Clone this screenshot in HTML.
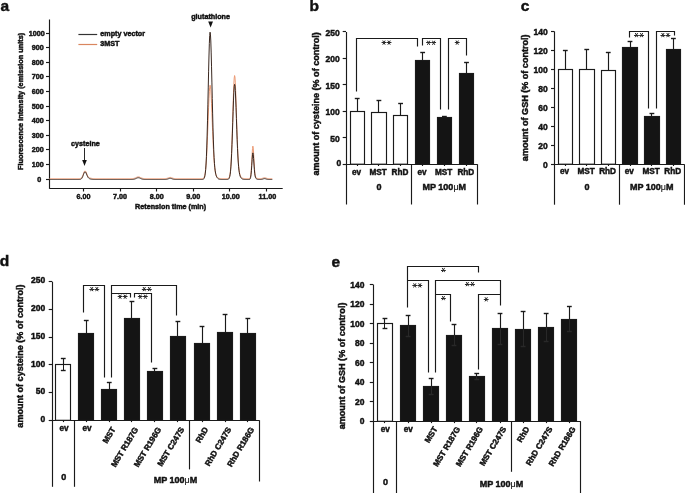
<!DOCTYPE html>
<html><head><meta charset="utf-8"><style>
html,body{margin:0;padding:0;background:#fff;}
body{width:685px;height:493px;overflow:hidden;font-family:"Liberation Sans",sans-serif;}
svg{display:block;will-change:transform;}
</style></head><body>
<svg width="685" height="493" viewBox="0 0 685 493">
<rect width="685" height="493" fill="#fff"/>
<text x="0.50" y="11.30" font-size="15.5" text-anchor="start" fill="#111" stroke="#111" stroke-width="0.45" font-family="Liberation Sans" font-weight="bold" >a</text>
<text x="309.50" y="11.20" font-size="15.5" text-anchor="start" fill="#111" stroke="#111" stroke-width="0.45" font-family="Liberation Sans" font-weight="bold" >b</text>
<text x="520.80" y="11.20" font-size="15.5" text-anchor="start" fill="#111" stroke="#111" stroke-width="0.45" font-family="Liberation Sans" font-weight="bold" >c</text>
<text x="-0.20" y="266.40" font-size="15.5" text-anchor="start" fill="#111" stroke="#111" stroke-width="0.45" font-family="Liberation Sans" font-weight="bold" >d</text>
<text x="331.50" y="267.00" font-size="15.5" text-anchor="start" fill="#111" stroke="#111" stroke-width="0.45" font-family="Liberation Sans" font-weight="bold" >e</text>
<line x1="49.50" y1="19.50" x2="49.50" y2="188.80" stroke="#1a1a1a" stroke-width="1.15"/>
<line x1="49.50" y1="188.50" x2="282.70" y2="188.50" stroke="#1a1a1a" stroke-width="1.15"/>
<line x1="46.00" y1="179.50" x2="49.50" y2="179.50" stroke="#1a1a1a" stroke-width="1.15"/>
<text x="41.30" y="181.60" font-size="7.2" text-anchor="end" fill="#111" stroke="#111" stroke-width="0.45" font-family="Liberation Sans" font-weight="bold" >0</text>
<line x1="46.00" y1="164.50" x2="49.50" y2="164.50" stroke="#1a1a1a" stroke-width="1.15"/>
<text x="43.70" y="166.99" font-size="7.2" text-anchor="end" fill="#111" stroke="#111" stroke-width="0.45" font-family="Liberation Sans" font-weight="bold" >100</text>
<line x1="46.00" y1="149.50" x2="49.50" y2="149.50" stroke="#1a1a1a" stroke-width="1.15"/>
<text x="43.70" y="152.38" font-size="7.2" text-anchor="end" fill="#111" stroke="#111" stroke-width="0.45" font-family="Liberation Sans" font-weight="bold" >200</text>
<line x1="46.00" y1="135.50" x2="49.50" y2="135.50" stroke="#1a1a1a" stroke-width="1.15"/>
<text x="43.70" y="137.77" font-size="7.2" text-anchor="end" fill="#111" stroke="#111" stroke-width="0.45" font-family="Liberation Sans" font-weight="bold" >300</text>
<line x1="46.00" y1="120.50" x2="49.50" y2="120.50" stroke="#1a1a1a" stroke-width="1.15"/>
<text x="43.70" y="123.16" font-size="7.2" text-anchor="end" fill="#111" stroke="#111" stroke-width="0.45" font-family="Liberation Sans" font-weight="bold" >400</text>
<line x1="46.00" y1="106.50" x2="49.50" y2="106.50" stroke="#1a1a1a" stroke-width="1.15"/>
<text x="43.70" y="108.55" font-size="7.2" text-anchor="end" fill="#111" stroke="#111" stroke-width="0.45" font-family="Liberation Sans" font-weight="bold" >500</text>
<line x1="46.00" y1="91.50" x2="49.50" y2="91.50" stroke="#1a1a1a" stroke-width="1.15"/>
<text x="43.70" y="93.94" font-size="7.2" text-anchor="end" fill="#111" stroke="#111" stroke-width="0.45" font-family="Liberation Sans" font-weight="bold" >600</text>
<line x1="46.00" y1="76.50" x2="49.50" y2="76.50" stroke="#1a1a1a" stroke-width="1.15"/>
<text x="43.70" y="79.33" font-size="7.2" text-anchor="end" fill="#111" stroke="#111" stroke-width="0.45" font-family="Liberation Sans" font-weight="bold" >700</text>
<line x1="46.00" y1="62.50" x2="49.50" y2="62.50" stroke="#1a1a1a" stroke-width="1.15"/>
<text x="43.70" y="64.72" font-size="7.2" text-anchor="end" fill="#111" stroke="#111" stroke-width="0.45" font-family="Liberation Sans" font-weight="bold" >800</text>
<line x1="46.00" y1="47.50" x2="49.50" y2="47.50" stroke="#1a1a1a" stroke-width="1.15"/>
<text x="43.70" y="50.11" font-size="7.2" text-anchor="end" fill="#111" stroke="#111" stroke-width="0.45" font-family="Liberation Sans" font-weight="bold" >900</text>
<line x1="46.00" y1="33.50" x2="49.50" y2="33.50" stroke="#1a1a1a" stroke-width="1.15"/>
<text x="44.80" y="35.50" font-size="7.2" text-anchor="end" fill="#111" stroke="#111" stroke-width="0.45" font-family="Liberation Sans" font-weight="bold" >1000</text>
<line x1="83.50" y1="188.30" x2="83.50" y2="191.50" stroke="#1a1a1a" stroke-width="1.15"/>
<text x="83.50" y="198.80" font-size="7.2" text-anchor="middle" fill="#111" stroke="#111" stroke-width="0.45" font-family="Liberation Sans" font-weight="bold" >6.00</text>
<line x1="120.50" y1="188.30" x2="120.50" y2="191.50" stroke="#1a1a1a" stroke-width="1.15"/>
<text x="120.08" y="198.80" font-size="7.2" text-anchor="middle" fill="#111" stroke="#111" stroke-width="0.45" font-family="Liberation Sans" font-weight="bold" >7.00</text>
<line x1="156.50" y1="188.30" x2="156.50" y2="191.50" stroke="#1a1a1a" stroke-width="1.15"/>
<text x="156.66" y="198.80" font-size="7.2" text-anchor="middle" fill="#111" stroke="#111" stroke-width="0.45" font-family="Liberation Sans" font-weight="bold" >8.00</text>
<line x1="193.50" y1="188.30" x2="193.50" y2="191.50" stroke="#1a1a1a" stroke-width="1.15"/>
<text x="193.24" y="198.80" font-size="7.2" text-anchor="middle" fill="#111" stroke="#111" stroke-width="0.45" font-family="Liberation Sans" font-weight="bold" >9.00</text>
<line x1="229.50" y1="188.30" x2="229.50" y2="191.50" stroke="#1a1a1a" stroke-width="1.15"/>
<text x="230.82" y="198.80" font-size="7.2" text-anchor="middle" fill="#111" stroke="#111" stroke-width="0.45" font-family="Liberation Sans" font-weight="bold" >10.00</text>
<line x1="266.50" y1="188.30" x2="266.50" y2="191.50" stroke="#1a1a1a" stroke-width="1.15"/>
<text x="267.40" y="198.80" font-size="7.2" text-anchor="middle" fill="#111" stroke="#111" stroke-width="0.45" font-family="Liberation Sans" font-weight="bold" >11.00</text>
<text x="170.60" y="208.80" font-size="7.2" text-anchor="middle" fill="#111" stroke="#111" stroke-width="0.45" font-family="Liberation Sans" font-weight="bold" >Retension time (min)</text>
<text x="0.00" y="0.00" font-size="7.3" text-anchor="middle" fill="#111" stroke="#111" stroke-width="0.45" font-family="Liberation Sans" font-weight="bold" transform="translate(23.4,101.4) rotate(-90)">Fluorescence intensity (emission units)</text>
<line x1="78.40" y1="34.50" x2="97.20" y2="34.50" stroke="#333" stroke-width="1.2"/>
<line x1="78.40" y1="44.50" x2="97.20" y2="44.50" stroke="#d9865f" stroke-width="1.2"/>
<text x="100.30" y="36.40" font-size="7.2" text-anchor="start" fill="#111" stroke="#111" stroke-width="0.45" font-family="Liberation Sans" font-weight="bold" >empty vector</text>
<text x="100.30" y="46.00" font-size="7.2" text-anchor="start" fill="#111" stroke="#111" stroke-width="0.45" font-family="Liberation Sans" font-weight="bold" >3MST</text>
<text x="85.40" y="146.00" font-size="7.2" text-anchor="middle" fill="#111" stroke="#111" stroke-width="0.45" font-family="Liberation Sans" font-weight="bold" >cysteine</text>
<line x1="84.50" y1="148.00" x2="84.50" y2="161.00" stroke="#111" stroke-width="0.9"/>
<polygon points="82.2,160 86.8,160 84.5,166" fill="#111"/>
<text x="210.60" y="18.90" font-size="7.2" text-anchor="middle" fill="#111" stroke="#111" stroke-width="0.45" font-family="Liberation Sans" font-weight="bold" >glutathione</text>
<polygon points="208.2,21.5 213,21.5 210.6,27.5" fill="#111"/>
<polyline points="49.48,178.60 49.85,178.60 50.21,178.60 50.58,178.60 50.94,178.60 51.31,178.60 51.68,178.60 52.04,178.60 52.41,178.60 52.77,178.60 53.14,178.60 53.50,178.60 53.87,178.60 54.24,178.60 54.60,178.60 54.97,178.60 55.33,178.60 55.70,178.60 56.06,178.60 56.43,178.60 56.80,178.60 57.16,178.60 57.53,178.60 57.89,178.60 58.26,178.60 58.63,178.60 58.99,178.60 59.36,178.60 59.72,178.60 60.09,178.60 60.45,178.60 60.82,178.60 61.19,178.60 61.55,178.60 61.92,178.60 62.28,178.60 62.65,178.60 63.02,178.60 63.38,178.60 63.75,178.60 64.11,178.60 64.48,178.60 64.84,178.60 65.21,178.60 65.58,178.60 65.94,178.60 66.31,178.60 66.67,178.60 67.04,178.60 67.40,178.60 67.77,178.60 68.14,178.60 68.50,178.60 68.87,178.60 69.23,178.60 69.60,178.60 69.97,178.60 70.33,178.60 70.70,178.60 71.06,178.60 71.43,178.60 71.79,178.60 72.16,178.60 72.53,178.60 72.89,178.60 73.26,178.60 73.62,178.60 73.99,178.60 74.35,178.60 74.72,178.60 75.09,178.60 75.45,178.60 75.82,178.60 76.18,178.60 76.55,178.60 76.92,178.60 77.28,178.60 77.65,178.60 78.01,178.60 78.38,178.60 78.74,178.59 79.11,178.59 79.48,178.57 79.84,178.54 80.21,178.49 80.57,178.39 80.94,178.23 81.31,177.97 81.67,177.60 82.04,177.07 82.40,176.38 82.77,175.54 83.13,174.58 83.50,173.56 83.87,172.59 84.23,171.76 84.60,171.19 84.96,170.93 85.33,171.03 85.69,171.45 86.06,172.13 86.43,172.98 86.79,173.89 87.16,174.77 87.52,175.56 87.89,176.22 88.26,176.75 88.62,177.15 88.99,177.46 89.35,177.69 89.72,177.87 90.08,178.01 90.45,178.13 90.82,178.23 91.18,178.31 91.55,178.38 91.91,178.44 92.28,178.48 92.64,178.52 93.01,178.54 93.38,178.56 93.74,178.57 94.11,178.58 94.47,178.59 94.84,178.59 95.21,178.60 95.57,178.60 95.94,178.60 96.30,178.60 96.67,178.60 97.03,178.60 97.40,178.60 97.77,178.60 98.13,178.60 98.50,178.60 98.86,178.60 99.23,178.60 99.60,178.60 99.96,178.60 100.33,178.60 100.69,178.60 101.06,178.60 101.42,178.60 101.79,178.60 102.16,178.60 102.52,178.60 102.89,178.60 103.25,178.60 103.62,178.60 103.98,178.60 104.35,178.60 104.72,178.60 105.08,178.60 105.45,178.60 105.81,178.60 106.18,178.60 106.55,178.60 106.91,178.60 107.28,178.60 107.64,178.60 108.01,178.60 108.37,178.60 108.74,178.60 109.11,178.60 109.47,178.60 109.84,178.60 110.20,178.60 110.57,178.60 110.93,178.60 111.30,178.60 111.67,178.60 112.03,178.60 112.40,178.60 112.76,178.60 113.13,178.60 113.50,178.60 113.86,178.60 114.23,178.60 114.59,178.60 114.96,178.60 115.32,178.60 115.69,178.60 116.06,178.60 116.42,178.60 116.79,178.60 117.15,178.60 117.52,178.60 117.89,178.60 118.25,178.60 118.62,178.60 118.98,178.60 119.35,178.60 119.71,178.60 120.08,178.60 120.45,178.60 120.81,178.60 121.18,178.60 121.54,178.60 121.91,178.60 122.27,178.60 122.64,178.60 123.01,178.60 123.37,178.60 123.74,178.60 124.10,178.60 124.47,178.60 124.84,178.60 125.20,178.60 125.57,178.60 125.93,178.60 126.30,178.60 126.66,178.60 127.03,178.60 127.40,178.60 127.76,178.60 128.13,178.60 128.49,178.60 128.86,178.60 129.22,178.60 129.59,178.60 129.96,178.60 130.32,178.60 130.69,178.60 131.05,178.59 131.42,178.59 131.79,178.58 132.15,178.57 132.52,178.55 132.88,178.52 133.25,178.48 133.61,178.43 133.98,178.36 134.35,178.27 134.71,178.16 135.08,178.03 135.44,177.88 135.81,177.71 136.18,177.54 136.54,177.36 136.91,177.20 137.27,177.05 137.64,176.94 138.00,176.87 138.37,176.85 138.74,176.87 139.10,176.94 139.47,177.05 139.83,177.20 140.20,177.36 140.56,177.54 140.93,177.71 141.30,177.88 141.66,178.03 142.03,178.16 142.39,178.27 142.76,178.36 143.13,178.43 143.49,178.48 143.86,178.52 144.22,178.55 144.59,178.57 144.95,178.58 145.32,178.59 145.69,178.59 146.05,178.60 146.42,178.60 146.78,178.60 147.15,178.60 147.51,178.60 147.88,178.60 148.25,178.60 148.61,178.60 148.98,178.60 149.34,178.60 149.71,178.60 150.08,178.60 150.44,178.60 150.81,178.60 151.17,178.60 151.54,178.60 151.90,178.60 152.27,178.60 152.64,178.60 153.00,178.60 153.37,178.60 153.73,178.60 154.10,178.60 154.47,178.60 154.83,178.60 155.20,178.60 155.56,178.60 155.93,178.60 156.29,178.60 156.66,178.60 157.03,178.60 157.39,178.60 157.76,178.60 158.12,178.60 158.49,178.60 158.85,178.60 159.22,178.60 159.59,178.60 159.95,178.60 160.32,178.60 160.68,178.60 161.05,178.60 161.42,178.60 161.78,178.60 162.15,178.60 162.51,178.60 162.88,178.60 163.24,178.60 163.61,178.60 163.98,178.60 164.34,178.59 164.71,178.59 165.07,178.58 165.44,178.56 165.80,178.53 166.17,178.50 166.54,178.44 166.90,178.37 167.27,178.28 167.63,178.16 168.00,178.03 168.37,177.89 168.73,177.75 169.10,177.62 169.46,177.52 169.83,177.45 170.19,177.43 170.56,177.45 170.93,177.52 171.29,177.62 171.66,177.75 172.02,177.89 172.39,178.03 172.76,178.16 173.12,178.28 173.49,178.37 173.85,178.44 174.22,178.50 174.58,178.53 174.95,178.56 175.32,178.58 175.68,178.59 176.05,178.59 176.41,178.60 176.78,178.60 177.14,178.60 177.51,178.60 177.88,178.60 178.24,178.60 178.61,178.60 178.97,178.60 179.34,178.60 179.71,178.60 180.07,178.60 180.44,178.60 180.80,178.60 181.17,178.60 181.53,178.60 181.90,178.60 182.27,178.60 182.63,178.60 183.00,178.60 183.36,178.60 183.73,178.60 184.09,178.60 184.46,178.60 184.83,178.60 185.19,178.60 185.56,178.60 185.92,178.60 186.29,178.60 186.66,178.60 187.02,178.60 187.39,178.60 187.75,178.60 188.12,178.60 188.48,178.60 188.85,178.60 189.22,178.60 189.58,178.60 189.95,178.60 190.31,178.60 190.68,178.60 191.05,178.60 191.41,178.60 191.78,178.60 192.14,178.60 192.51,178.60 192.87,178.60 193.24,178.60 193.61,178.60 193.97,178.60 194.34,178.60 194.70,178.60 195.07,178.60 195.43,178.60 195.80,178.60 196.17,178.60 196.53,178.60 196.90,178.60 197.26,178.60 197.63,178.60 198.00,178.60 198.36,178.60 198.73,178.60 199.09,178.60 199.46,178.60 199.82,178.60 200.19,178.60 200.56,178.60 200.92,178.60 201.29,178.59 201.65,178.58 202.02,178.56 202.38,178.52 202.75,178.44 203.12,178.31 203.48,178.08 203.85,177.69 204.21,177.06 204.58,176.07 204.95,174.59 205.31,172.43 205.68,169.41 206.04,165.33 206.41,160.05 206.77,153.47 207.14,145.62 207.51,136.67 207.87,126.95 208.24,116.94 208.60,107.28 208.97,98.65 209.34,91.74 209.70,87.13 210.07,85.20 210.43,86.12 210.80,89.77 211.16,95.80 211.53,103.65 211.90,112.68 212.26,122.20 212.63,131.62 212.99,140.43 213.36,148.29 213.72,155.03 214.09,160.58 214.46,165.03 214.82,168.48 215.19,171.11 215.55,173.07 215.92,174.53 216.29,175.60 216.65,176.39 217.02,176.97 217.38,177.41 217.75,177.73 218.11,177.97 218.48,178.15 218.85,178.28 219.21,178.38 219.58,178.45 219.94,178.50 220.31,178.53 220.67,178.56 221.04,178.57 221.41,178.58 221.77,178.59 222.14,178.59 222.50,178.60 222.87,178.60 223.24,178.60 223.60,178.60 223.97,178.60 224.33,178.60 224.70,178.60 225.06,178.60 225.43,178.60 225.80,178.60 226.16,178.60 226.53,178.59 226.89,178.58 227.26,178.57 227.63,178.53 227.99,178.44 228.36,178.29 228.72,177.99 229.09,177.47 229.45,176.59 229.82,175.15 230.19,172.91 230.55,169.59 230.92,164.89 231.28,158.56 231.65,150.43 232.01,140.55 232.38,129.21 232.75,116.98 233.11,104.71 233.48,93.43 233.84,84.22 234.21,78.04 234.58,75.56 234.94,77.02 235.31,82.22 235.67,90.54 236.04,101.04 236.40,112.69 236.77,124.47 237.14,135.54 237.50,145.33 237.87,153.53 238.23,160.08 238.60,165.12 238.96,168.86 239.33,171.57 239.70,173.51 240.06,174.89 240.43,175.87 240.79,176.59 241.16,177.12 241.53,177.52 241.89,177.82 242.26,178.04 242.62,178.21 242.99,178.33 243.35,178.42 243.72,178.48 244.09,178.52 244.45,178.55 244.82,178.57 245.18,178.58 245.55,178.59 245.92,178.59 246.28,178.60 246.65,178.60 247.01,178.60 247.38,178.60 247.74,178.60 248.11,178.60 248.48,178.60 248.84,178.59 249.21,178.56 249.57,178.47 249.94,178.19 250.30,177.47 250.67,175.86 251.04,172.81 251.40,167.88 251.77,161.28 252.13,154.16 252.50,148.47 252.87,146.13 253.23,147.95 253.60,153.18 253.96,159.96 254.33,166.36 254.69,171.25 255.06,174.39 255.43,176.19 255.79,177.15 256.16,177.68 256.52,178.00 256.89,178.21 257.25,178.36 257.62,178.46 257.99,178.52 258.35,178.56 258.72,178.58 259.08,178.59 259.45,178.59 259.82,178.59 260.18,178.59 260.55,178.58 260.91,178.56 261.28,178.53 261.64,178.48 262.01,178.41 262.38,178.32 262.74,178.20 263.11,178.07 263.47,177.94 263.84,177.83 264.21,177.75 264.57,177.72 264.94,177.75 265.30,177.83 265.67,177.94 266.03,178.07 266.40,178.20 266.77,178.32 267.13,178.41 267.50,178.48 267.86,178.53 268.23,178.56 268.59,178.58 268.96,178.59 269.33,178.60 269.69,178.60 270.06,178.60 270.42,178.60 270.79,178.60 271.16,178.60 271.52,178.60 271.89,178.60 272.25,178.60" fill="none" stroke="#ec9a74" stroke-width="1.0" stroke-linejoin="miter"/>
<polyline points="49.48,179.50 49.85,179.50 50.21,179.50 50.58,179.50 50.94,179.50 51.31,179.50 51.68,179.50 52.04,179.50 52.41,179.50 52.77,179.50 53.14,179.50 53.50,179.50 53.87,179.50 54.24,179.50 54.60,179.50 54.97,179.50 55.33,179.50 55.70,179.50 56.06,179.50 56.43,179.50 56.80,179.50 57.16,179.50 57.53,179.50 57.89,179.50 58.26,179.50 58.63,179.50 58.99,179.50 59.36,179.50 59.72,179.50 60.09,179.50 60.45,179.50 60.82,179.50 61.19,179.50 61.55,179.50 61.92,179.50 62.28,179.50 62.65,179.50 63.02,179.50 63.38,179.50 63.75,179.50 64.11,179.50 64.48,179.50 64.84,179.50 65.21,179.50 65.58,179.50 65.94,179.50 66.31,179.50 66.67,179.50 67.04,179.50 67.40,179.50 67.77,179.50 68.14,179.50 68.50,179.50 68.87,179.50 69.23,179.50 69.60,179.50 69.97,179.50 70.33,179.50 70.70,179.50 71.06,179.50 71.43,179.50 71.79,179.50 72.16,179.50 72.53,179.50 72.89,179.50 73.26,179.50 73.62,179.50 73.99,179.50 74.35,179.50 74.72,179.50 75.09,179.50 75.45,179.50 75.82,179.50 76.18,179.50 76.55,179.50 76.92,179.50 77.28,179.50 77.65,179.50 78.01,179.50 78.38,179.50 78.74,179.49 79.11,179.49 79.48,179.47 79.84,179.44 80.21,179.39 80.57,179.29 80.94,179.13 81.31,178.87 81.67,178.50 82.04,177.97 82.40,177.28 82.77,176.44 83.13,175.48 83.50,174.46 83.87,173.49 84.23,172.66 84.60,172.09 84.96,171.83 85.33,171.93 85.69,172.35 86.06,173.03 86.43,173.88 86.79,174.79 87.16,175.67 87.52,176.46 87.89,177.12 88.26,177.65 88.62,178.05 88.99,178.36 89.35,178.59 89.72,178.77 90.08,178.91 90.45,179.03 90.82,179.13 91.18,179.21 91.55,179.28 91.91,179.34 92.28,179.38 92.64,179.42 93.01,179.44 93.38,179.46 93.74,179.47 94.11,179.48 94.47,179.49 94.84,179.49 95.21,179.50 95.57,179.50 95.94,179.50 96.30,179.50 96.67,179.50 97.03,179.50 97.40,179.50 97.77,179.50 98.13,179.50 98.50,179.50 98.86,179.50 99.23,179.50 99.60,179.50 99.96,179.50 100.33,179.50 100.69,179.50 101.06,179.50 101.42,179.50 101.79,179.50 102.16,179.50 102.52,179.50 102.89,179.50 103.25,179.50 103.62,179.50 103.98,179.50 104.35,179.50 104.72,179.50 105.08,179.50 105.45,179.50 105.81,179.50 106.18,179.50 106.55,179.50 106.91,179.50 107.28,179.50 107.64,179.50 108.01,179.50 108.37,179.50 108.74,179.50 109.11,179.50 109.47,179.50 109.84,179.50 110.20,179.50 110.57,179.50 110.93,179.50 111.30,179.50 111.67,179.50 112.03,179.50 112.40,179.50 112.76,179.50 113.13,179.50 113.50,179.50 113.86,179.50 114.23,179.50 114.59,179.50 114.96,179.50 115.32,179.50 115.69,179.50 116.06,179.50 116.42,179.50 116.79,179.50 117.15,179.50 117.52,179.50 117.89,179.50 118.25,179.50 118.62,179.50 118.98,179.50 119.35,179.50 119.71,179.50 120.08,179.50 120.45,179.50 120.81,179.50 121.18,179.50 121.54,179.50 121.91,179.50 122.27,179.50 122.64,179.50 123.01,179.50 123.37,179.50 123.74,179.50 124.10,179.50 124.47,179.50 124.84,179.50 125.20,179.50 125.57,179.50 125.93,179.50 126.30,179.50 126.66,179.50 127.03,179.50 127.40,179.50 127.76,179.50 128.13,179.50 128.49,179.50 128.86,179.50 129.22,179.50 129.59,179.50 129.96,179.50 130.32,179.50 130.69,179.50 131.05,179.49 131.42,179.49 131.79,179.48 132.15,179.47 132.52,179.45 132.88,179.42 133.25,179.38 133.61,179.33 133.98,179.26 134.35,179.17 134.71,179.06 135.08,178.93 135.44,178.78 135.81,178.61 136.18,178.44 136.54,178.26 136.91,178.10 137.27,177.95 137.64,177.84 138.00,177.77 138.37,177.75 138.74,177.77 139.10,177.84 139.47,177.95 139.83,178.10 140.20,178.26 140.56,178.44 140.93,178.61 141.30,178.78 141.66,178.93 142.03,179.06 142.39,179.17 142.76,179.26 143.13,179.33 143.49,179.38 143.86,179.42 144.22,179.45 144.59,179.47 144.95,179.48 145.32,179.49 145.69,179.49 146.05,179.50 146.42,179.50 146.78,179.50 147.15,179.50 147.51,179.50 147.88,179.50 148.25,179.50 148.61,179.50 148.98,179.50 149.34,179.50 149.71,179.50 150.08,179.50 150.44,179.50 150.81,179.50 151.17,179.50 151.54,179.50 151.90,179.50 152.27,179.50 152.64,179.50 153.00,179.50 153.37,179.50 153.73,179.50 154.10,179.50 154.47,179.50 154.83,179.50 155.20,179.50 155.56,179.50 155.93,179.50 156.29,179.50 156.66,179.50 157.03,179.50 157.39,179.50 157.76,179.50 158.12,179.50 158.49,179.50 158.85,179.50 159.22,179.50 159.59,179.50 159.95,179.50 160.32,179.50 160.68,179.50 161.05,179.50 161.42,179.50 161.78,179.50 162.15,179.50 162.51,179.50 162.88,179.50 163.24,179.50 163.61,179.50 163.98,179.50 164.34,179.49 164.71,179.49 165.07,179.48 165.44,179.46 165.80,179.43 166.17,179.40 166.54,179.34 166.90,179.27 167.27,179.18 167.63,179.06 168.00,178.93 168.37,178.79 168.73,178.65 169.10,178.52 169.46,178.42 169.83,178.35 170.19,178.33 170.56,178.35 170.93,178.42 171.29,178.52 171.66,178.65 172.02,178.79 172.39,178.93 172.76,179.06 173.12,179.18 173.49,179.27 173.85,179.34 174.22,179.40 174.58,179.43 174.95,179.46 175.32,179.48 175.68,179.49 176.05,179.49 176.41,179.50 176.78,179.50 177.14,179.50 177.51,179.50 177.88,179.50 178.24,179.50 178.61,179.50 178.97,179.50 179.34,179.50 179.71,179.50 180.07,179.50 180.44,179.50 180.80,179.50 181.17,179.50 181.53,179.50 181.90,179.50 182.27,179.50 182.63,179.50 183.00,179.50 183.36,179.50 183.73,179.50 184.09,179.50 184.46,179.50 184.83,179.50 185.19,179.50 185.56,179.50 185.92,179.50 186.29,179.50 186.66,179.50 187.02,179.50 187.39,179.50 187.75,179.50 188.12,179.50 188.48,179.50 188.85,179.50 189.22,179.50 189.58,179.50 189.95,179.50 190.31,179.50 190.68,179.50 191.05,179.50 191.41,179.50 191.78,179.50 192.14,179.50 192.51,179.50 192.87,179.50 193.24,179.50 193.61,179.50 193.97,179.50 194.34,179.50 194.70,179.50 195.07,179.50 195.43,179.50 195.80,179.50 196.17,179.50 196.53,179.50 196.90,179.50 197.26,179.50 197.63,179.50 198.00,179.50 198.36,179.50 198.73,179.50 199.09,179.50 199.46,179.50 199.82,179.50 200.19,179.50 200.56,179.50 200.92,179.50 201.29,179.50 201.65,179.49 202.02,179.48 202.38,179.46 202.75,179.41 203.12,179.31 203.48,179.13 203.85,178.80 204.21,178.21 204.58,177.22 204.95,175.61 205.31,173.11 205.68,169.36 206.04,164.00 206.41,156.66 206.77,147.06 207.14,135.07 207.51,120.85 207.87,104.86 208.24,87.93 208.60,71.20 208.97,55.99 209.34,43.69 209.70,35.48 210.07,32.18 210.43,34.10 210.80,40.98 211.16,52.07 211.53,66.20 211.90,82.07 212.26,98.34 212.63,113.90 212.99,127.92 213.36,139.93 213.72,149.75 214.09,157.47 214.46,163.34 214.82,167.68 215.19,170.83 215.55,173.10 215.92,174.73 216.29,175.92 216.65,176.81 217.02,177.47 217.38,177.98 217.75,178.37 218.11,178.67 218.48,178.90 218.85,179.08 219.21,179.20 219.58,179.30 219.94,179.36 220.31,179.41 220.67,179.44 221.04,179.46 221.41,179.48 221.77,179.49 222.14,179.49 222.50,179.50 222.87,179.50 223.24,179.50 223.60,179.50 223.97,179.50 224.33,179.50 224.70,179.50 225.06,179.50 225.43,179.50 225.80,179.50 226.16,179.50 226.53,179.49 226.89,179.49 227.26,179.47 227.63,179.43 227.99,179.36 228.36,179.21 228.72,178.94 229.09,178.46 229.45,177.64 229.82,176.32 230.19,174.26 230.55,171.20 230.92,166.86 231.28,161.02 231.65,153.52 232.01,144.41 232.38,133.95 232.75,122.66 233.11,111.34 233.48,100.92 233.84,92.40 234.21,86.68 234.58,84.35 234.94,85.65 235.31,90.40 235.67,98.03 236.04,107.67 236.40,118.38 236.77,129.21 237.14,139.40 237.50,148.42 237.87,155.99 238.23,162.05 238.60,166.72 238.96,170.20 239.33,172.74 239.70,174.56 240.06,175.87 240.43,176.82 240.79,177.52 241.16,178.03 241.53,178.42 241.89,178.72 242.26,178.94 242.62,179.11 242.99,179.23 243.35,179.32 243.72,179.38 244.09,179.42 244.45,179.45 244.82,179.47 245.18,179.48 245.55,179.49 245.92,179.49 246.28,179.50 246.65,179.50 247.01,179.50 247.38,179.50 247.74,179.50 248.11,179.50 248.48,179.50 248.84,179.49 249.21,179.47 249.57,179.39 249.94,179.16 250.30,178.57 250.67,177.26 251.04,174.76 251.40,170.73 251.77,165.33 252.13,159.50 252.50,154.82 252.87,152.87 253.23,154.30 253.60,158.52 253.96,164.01 254.33,169.21 254.69,173.20 255.06,175.79 255.43,177.29 255.79,178.12 256.16,178.60 256.52,178.90 256.89,179.11 257.25,179.26 257.62,179.36 257.99,179.42 258.35,179.46 258.72,179.48 259.08,179.49 259.45,179.49 259.82,179.49 260.18,179.49 260.55,179.48 260.91,179.46 261.28,179.43 261.64,179.38 262.01,179.31 262.38,179.22 262.74,179.10 263.11,178.97 263.47,178.84 263.84,178.73 264.21,178.65 264.57,178.62 264.94,178.65 265.30,178.73 265.67,178.84 266.03,178.97 266.40,179.10 266.77,179.22 267.13,179.31 267.50,179.38 267.86,179.43 268.23,179.46 268.59,179.48 268.96,179.49 269.33,179.50 269.69,179.50 270.06,179.50 270.42,179.50 270.79,179.50 271.16,179.50 271.52,179.50 271.89,179.50 272.25,179.50" fill="none" stroke="#3a2820" stroke-width="1.0" stroke-linejoin="miter"/>
<line x1="346.50" y1="32.00" x2="346.50" y2="204.50" stroke="#1a1a1a" stroke-width="1.15"/>
<line x1="342.70" y1="164.50" x2="346.00" y2="164.50" stroke="#1a1a1a" stroke-width="1.15"/>
<text x="341.20" y="165.55" font-size="8.5" text-anchor="end" fill="#111" stroke="#111" stroke-width="0.45" font-family="Liberation Sans" font-weight="bold" >0</text>
<line x1="342.70" y1="137.50" x2="346.00" y2="137.50" stroke="#1a1a1a" stroke-width="1.15"/>
<text x="339.80" y="141.61" font-size="8.5" text-anchor="end" fill="#111" stroke="#111" stroke-width="0.45" font-family="Liberation Sans" font-weight="bold" >50</text>
<line x1="342.70" y1="111.50" x2="346.00" y2="111.50" stroke="#1a1a1a" stroke-width="1.15"/>
<text x="339.80" y="115.17" font-size="8.5" text-anchor="end" fill="#111" stroke="#111" stroke-width="0.45" font-family="Liberation Sans" font-weight="bold" >100</text>
<line x1="342.70" y1="84.50" x2="346.00" y2="84.50" stroke="#1a1a1a" stroke-width="1.15"/>
<text x="339.80" y="88.73" font-size="8.5" text-anchor="end" fill="#111" stroke="#111" stroke-width="0.45" font-family="Liberation Sans" font-weight="bold" >150</text>
<line x1="342.70" y1="58.50" x2="346.00" y2="58.50" stroke="#1a1a1a" stroke-width="1.15"/>
<text x="339.80" y="62.29" font-size="8.5" text-anchor="end" fill="#111" stroke="#111" stroke-width="0.45" font-family="Liberation Sans" font-weight="bold" >200</text>
<line x1="342.70" y1="31.50" x2="346.00" y2="31.50" stroke="#1a1a1a" stroke-width="1.15"/>
<text x="339.80" y="35.85" font-size="8.5" text-anchor="end" fill="#111" stroke="#111" stroke-width="0.45" font-family="Liberation Sans" font-weight="bold" >250</text>
<line x1="346.00" y1="164.50" x2="477.30" y2="164.50" stroke="#1a1a1a" stroke-width="1.15"/>
<rect x="350.50" y="111.50" width="14.00" height="52.70" fill="white" stroke="#1a1a1a" stroke-width="1.15"/>
<line x1="357.50" y1="111.32" x2="357.50" y2="98.89" stroke="#1a1a1a" stroke-width="1.15"/>
<line x1="354.80" y1="98.50" x2="359.60" y2="98.50" stroke="#1a1a1a" stroke-width="1.4"/>
<line x1="357.50" y1="164.20" x2="357.50" y2="166.00" stroke="#1a1a1a" stroke-width="1.15"/>
<rect x="371.50" y="112.50" width="15.00" height="51.70" fill="white" stroke="#1a1a1a" stroke-width="1.15"/>
<line x1="378.50" y1="112.64" x2="378.50" y2="100.48" stroke="#1a1a1a" stroke-width="1.15"/>
<line x1="376.50" y1="100.50" x2="381.30" y2="100.50" stroke="#1a1a1a" stroke-width="1.4"/>
<line x1="378.50" y1="164.20" x2="378.50" y2="166.00" stroke="#1a1a1a" stroke-width="1.15"/>
<rect x="393.50" y="115.50" width="14.00" height="48.70" fill="white" stroke="#1a1a1a" stroke-width="1.15"/>
<line x1="400.50" y1="115.29" x2="400.50" y2="103.39" stroke="#1a1a1a" stroke-width="1.15"/>
<line x1="398.20" y1="103.50" x2="403.00" y2="103.50" stroke="#1a1a1a" stroke-width="1.4"/>
<line x1="400.50" y1="164.20" x2="400.50" y2="166.00" stroke="#1a1a1a" stroke-width="1.15"/>
<rect x="415.50" y="60.50" width="14.00" height="103.70" fill="#141414" stroke="#1a1a1a" stroke-width="1.15"/>
<line x1="422.50" y1="60.29" x2="422.50" y2="52.09" stroke="#1a1a1a" stroke-width="1.15"/>
<line x1="420.25" y1="52.50" x2="425.05" y2="52.50" stroke="#1a1a1a" stroke-width="1.4"/>
<line x1="422.50" y1="164.20" x2="422.50" y2="166.00" stroke="#1a1a1a" stroke-width="1.15"/>
<rect x="437.50" y="117.50" width="14.00" height="46.70" fill="#141414" stroke="#1a1a1a" stroke-width="1.15"/>
<line x1="444.50" y1="117.56" x2="444.50" y2="116.24" stroke="#1a1a1a" stroke-width="1.15"/>
<line x1="442.00" y1="116.50" x2="446.80" y2="116.50" stroke="#1a1a1a" stroke-width="1.4"/>
<line x1="444.50" y1="164.20" x2="444.50" y2="166.00" stroke="#1a1a1a" stroke-width="1.15"/>
<rect x="459.50" y="73.50" width="14.00" height="90.70" fill="#141414" stroke="#1a1a1a" stroke-width="1.15"/>
<line x1="466.50" y1="73.78" x2="466.50" y2="62.67" stroke="#1a1a1a" stroke-width="1.15"/>
<line x1="464.10" y1="62.50" x2="468.90" y2="62.50" stroke="#1a1a1a" stroke-width="1.4"/>
<line x1="466.50" y1="164.20" x2="466.50" y2="166.00" stroke="#1a1a1a" stroke-width="1.15"/>
<text x="0.00" y="0.00" font-size="9.05" text-anchor="middle" fill="#111" stroke="#111" stroke-width="0.45" font-family="Liberation Sans" font-weight="bold" transform="translate(318.8,103.8) rotate(-90)">amount of cysteine (% of control)</text>
<line x1="411.50" y1="164.20" x2="411.50" y2="204.50" stroke="#1a1a1a" stroke-width="1.15"/>
<line x1="477.50" y1="164.20" x2="477.50" y2="204.50" stroke="#1a1a1a" stroke-width="1.15"/>
<text x="356.50" y="175.20" font-size="8.2" text-anchor="middle" fill="#111" stroke="#111" stroke-width="0.45" font-family="Liberation Sans" font-weight="bold" >ev</text>
<text x="378.20" y="175.20" font-size="8.2" text-anchor="middle" fill="#111" stroke="#111" stroke-width="0.45" font-family="Liberation Sans" font-weight="bold" >MST</text>
<text x="399.90" y="175.20" font-size="8.2" text-anchor="middle" fill="#111" stroke="#111" stroke-width="0.45" font-family="Liberation Sans" font-weight="bold" >RhD</text>
<text x="421.95" y="175.20" font-size="8.2" text-anchor="middle" fill="#111" stroke="#111" stroke-width="0.45" font-family="Liberation Sans" font-weight="bold" >ev</text>
<text x="443.70" y="175.20" font-size="8.2" text-anchor="middle" fill="#111" stroke="#111" stroke-width="0.45" font-family="Liberation Sans" font-weight="bold" >MST</text>
<text x="465.80" y="175.20" font-size="8.2" text-anchor="middle" fill="#111" stroke="#111" stroke-width="0.45" font-family="Liberation Sans" font-weight="bold" >RhD</text>
<text x="379.10" y="189.80" font-size="9" text-anchor="middle" fill="#111" stroke="#111" stroke-width="0.45" font-family="Liberation Sans" font-weight="bold" >0</text>
<text x="444.30" y="190.20" font-size="9" text-anchor="middle" fill="#111" stroke="#111" stroke-width="0.45" font-family="Liberation Sans" font-weight="bold" >MP 100<tspan font-weight="normal" stroke-width="0.1">&#956;</tspan>M</text>
<polyline points="356.50,91.50 356.50,38.50 417.50,38.50 417.50,46.50" fill="none" stroke="#1a1a1a" stroke-width="1.15" stroke-linejoin="miter"/>
<polyline points="422.50,45.50 422.50,38.50 440.50,38.50 440.50,109.50" fill="none" stroke="#1a1a1a" stroke-width="1.15" stroke-linejoin="miter"/>
<polyline points="448.50,109.50 448.50,38.50 466.50,38.50 466.50,55.50" fill="none" stroke="#1a1a1a" stroke-width="1.15" stroke-linejoin="miter"/>
<line x1="381.55" y1="42.50" x2="386.35" y2="42.50" stroke="#2a2a2a" stroke-width="1.0"/>
<line x1="382.75" y1="40.52" x2="385.15" y2="44.68" stroke="#2a2a2a" stroke-width="1.0"/>
<line x1="385.15" y1="40.52" x2="382.75" y2="44.68" stroke="#2a2a2a" stroke-width="1.0"/>
<line x1="386.65" y1="42.50" x2="391.45" y2="42.50" stroke="#2a2a2a" stroke-width="1.0"/>
<line x1="387.85" y1="40.52" x2="390.25" y2="44.68" stroke="#2a2a2a" stroke-width="1.0"/>
<line x1="390.25" y1="40.52" x2="387.85" y2="44.68" stroke="#2a2a2a" stroke-width="1.0"/>
<line x1="426.15" y1="42.50" x2="430.95" y2="42.50" stroke="#2a2a2a" stroke-width="1.0"/>
<line x1="427.35" y1="40.72" x2="429.75" y2="44.88" stroke="#2a2a2a" stroke-width="1.0"/>
<line x1="429.75" y1="40.72" x2="427.35" y2="44.88" stroke="#2a2a2a" stroke-width="1.0"/>
<line x1="431.25" y1="42.50" x2="436.05" y2="42.50" stroke="#2a2a2a" stroke-width="1.0"/>
<line x1="432.45" y1="40.72" x2="434.85" y2="44.88" stroke="#2a2a2a" stroke-width="1.0"/>
<line x1="434.85" y1="40.72" x2="432.45" y2="44.88" stroke="#2a2a2a" stroke-width="1.0"/>
<line x1="454.80" y1="42.50" x2="459.60" y2="42.50" stroke="#2a2a2a" stroke-width="1.0"/>
<line x1="456.00" y1="40.52" x2="458.40" y2="44.68" stroke="#2a2a2a" stroke-width="1.0"/>
<line x1="458.40" y1="40.52" x2="456.00" y2="44.68" stroke="#2a2a2a" stroke-width="1.0"/>
<line x1="554.50" y1="31.40" x2="554.50" y2="204.70" stroke="#1a1a1a" stroke-width="1.15"/>
<line x1="551.00" y1="164.50" x2="554.30" y2="164.50" stroke="#1a1a1a" stroke-width="1.15"/>
<text x="547.70" y="167.95" font-size="8.5" text-anchor="end" fill="#111" stroke="#111" stroke-width="0.45" font-family="Liberation Sans" font-weight="bold" >0</text>
<line x1="551.00" y1="145.50" x2="554.30" y2="145.50" stroke="#1a1a1a" stroke-width="1.15"/>
<text x="547.70" y="149.01" font-size="8.5" text-anchor="end" fill="#111" stroke="#111" stroke-width="0.45" font-family="Liberation Sans" font-weight="bold" >20</text>
<line x1="551.00" y1="126.50" x2="554.30" y2="126.50" stroke="#1a1a1a" stroke-width="1.15"/>
<text x="547.70" y="130.07" font-size="8.5" text-anchor="end" fill="#111" stroke="#111" stroke-width="0.45" font-family="Liberation Sans" font-weight="bold" >40</text>
<line x1="551.00" y1="107.50" x2="554.30" y2="107.50" stroke="#1a1a1a" stroke-width="1.15"/>
<text x="547.70" y="111.12" font-size="8.5" text-anchor="end" fill="#111" stroke="#111" stroke-width="0.45" font-family="Liberation Sans" font-weight="bold" >60</text>
<line x1="551.00" y1="88.50" x2="554.30" y2="88.50" stroke="#1a1a1a" stroke-width="1.15"/>
<text x="547.70" y="92.18" font-size="8.5" text-anchor="end" fill="#111" stroke="#111" stroke-width="0.45" font-family="Liberation Sans" font-weight="bold" >80</text>
<line x1="551.00" y1="69.50" x2="554.30" y2="69.50" stroke="#1a1a1a" stroke-width="1.15"/>
<text x="547.70" y="73.24" font-size="8.5" text-anchor="end" fill="#111" stroke="#111" stroke-width="0.45" font-family="Liberation Sans" font-weight="bold" >100</text>
<line x1="551.00" y1="50.50" x2="554.30" y2="50.50" stroke="#1a1a1a" stroke-width="1.15"/>
<text x="547.70" y="54.30" font-size="8.5" text-anchor="end" fill="#111" stroke="#111" stroke-width="0.45" font-family="Liberation Sans" font-weight="bold" >120</text>
<line x1="551.00" y1="31.50" x2="554.30" y2="31.50" stroke="#1a1a1a" stroke-width="1.15"/>
<text x="547.70" y="35.36" font-size="8.5" text-anchor="end" fill="#111" stroke="#111" stroke-width="0.45" font-family="Liberation Sans" font-weight="bold" >140</text>
<line x1="554.30" y1="164.50" x2="684.30" y2="164.50" stroke="#1a1a1a" stroke-width="1.15"/>
<rect x="558.50" y="69.50" width="14.00" height="94.70" fill="white" stroke="#1a1a1a" stroke-width="1.15"/>
<line x1="565.50" y1="69.49" x2="565.50" y2="50.55" stroke="#1a1a1a" stroke-width="1.15"/>
<line x1="562.90" y1="50.50" x2="567.70" y2="50.50" stroke="#1a1a1a" stroke-width="1.4"/>
<line x1="565.50" y1="164.20" x2="565.50" y2="166.00" stroke="#1a1a1a" stroke-width="1.15"/>
<rect x="579.50" y="69.50" width="15.00" height="94.70" fill="white" stroke="#1a1a1a" stroke-width="1.15"/>
<line x1="586.50" y1="69.30" x2="586.50" y2="49.98" stroke="#1a1a1a" stroke-width="1.15"/>
<line x1="584.35" y1="49.50" x2="589.15" y2="49.50" stroke="#1a1a1a" stroke-width="1.4"/>
<line x1="586.50" y1="164.20" x2="586.50" y2="166.00" stroke="#1a1a1a" stroke-width="1.15"/>
<rect x="601.50" y="70.50" width="14.00" height="93.70" fill="white" stroke="#1a1a1a" stroke-width="1.15"/>
<line x1="608.50" y1="70.63" x2="608.50" y2="52.63" stroke="#1a1a1a" stroke-width="1.15"/>
<line x1="605.85" y1="52.50" x2="610.65" y2="52.50" stroke="#1a1a1a" stroke-width="1.4"/>
<line x1="608.50" y1="164.20" x2="608.50" y2="166.00" stroke="#1a1a1a" stroke-width="1.15"/>
<rect x="622.50" y="47.50" width="15.00" height="116.70" fill="#141414" stroke="#1a1a1a" stroke-width="1.15"/>
<line x1="630.50" y1="47.33" x2="630.50" y2="41.65" stroke="#1a1a1a" stroke-width="1.15"/>
<line x1="627.60" y1="41.50" x2="632.40" y2="41.50" stroke="#1a1a1a" stroke-width="1.4"/>
<line x1="630.50" y1="164.20" x2="630.50" y2="166.00" stroke="#1a1a1a" stroke-width="1.15"/>
<rect x="644.50" y="116.50" width="15.00" height="47.70" fill="#141414" stroke="#1a1a1a" stroke-width="1.15"/>
<line x1="651.50" y1="116.18" x2="651.50" y2="113.34" stroke="#1a1a1a" stroke-width="1.15"/>
<line x1="649.50" y1="113.50" x2="654.30" y2="113.50" stroke="#1a1a1a" stroke-width="1.4"/>
<line x1="651.50" y1="164.20" x2="651.50" y2="166.00" stroke="#1a1a1a" stroke-width="1.15"/>
<rect x="666.50" y="49.50" width="14.00" height="114.70" fill="#141414" stroke="#1a1a1a" stroke-width="1.15"/>
<line x1="673.50" y1="49.22" x2="673.50" y2="38.80" stroke="#1a1a1a" stroke-width="1.15"/>
<line x1="671.00" y1="38.50" x2="675.80" y2="38.50" stroke="#1a1a1a" stroke-width="1.4"/>
<line x1="673.50" y1="164.20" x2="673.50" y2="166.00" stroke="#1a1a1a" stroke-width="1.15"/>
<text x="0.00" y="0.00" font-size="9.05" text-anchor="middle" fill="#111" stroke="#111" stroke-width="0.45" font-family="Liberation Sans" font-weight="bold" transform="translate(527.6,97.8) rotate(-90)">amount of GSH (% of control)</text>
<line x1="619.50" y1="164.20" x2="619.50" y2="204.70" stroke="#1a1a1a" stroke-width="1.15"/>
<line x1="684.50" y1="164.20" x2="684.50" y2="204.70" stroke="#1a1a1a" stroke-width="1.15"/>
<text x="564.60" y="174.30" font-size="8.2" text-anchor="middle" fill="#111" stroke="#111" stroke-width="0.45" font-family="Liberation Sans" font-weight="bold" >ev</text>
<text x="586.05" y="174.30" font-size="8.2" text-anchor="middle" fill="#111" stroke="#111" stroke-width="0.45" font-family="Liberation Sans" font-weight="bold" >MST</text>
<text x="607.55" y="174.30" font-size="8.2" text-anchor="middle" fill="#111" stroke="#111" stroke-width="0.45" font-family="Liberation Sans" font-weight="bold" >RhD</text>
<text x="629.30" y="174.30" font-size="8.2" text-anchor="middle" fill="#111" stroke="#111" stroke-width="0.45" font-family="Liberation Sans" font-weight="bold" >ev</text>
<text x="651.20" y="174.30" font-size="8.2" text-anchor="middle" fill="#111" stroke="#111" stroke-width="0.45" font-family="Liberation Sans" font-weight="bold" >MST</text>
<text x="672.70" y="174.30" font-size="8.2" text-anchor="middle" fill="#111" stroke="#111" stroke-width="0.45" font-family="Liberation Sans" font-weight="bold" >RhD</text>
<text x="586.90" y="189.70" font-size="9" text-anchor="middle" fill="#111" stroke="#111" stroke-width="0.45" font-family="Liberation Sans" font-weight="bold" >0</text>
<text x="651.70" y="189.70" font-size="9" text-anchor="middle" fill="#111" stroke="#111" stroke-width="0.45" font-family="Liberation Sans" font-weight="bold" >MP 100<tspan font-weight="normal" stroke-width="0.1">&#956;</tspan>M</text>
<polyline points="629.50,37.50 629.50,31.50 648.50,31.50 648.50,108.50" fill="none" stroke="#1a1a1a" stroke-width="1.15" stroke-linejoin="miter"/>
<polyline points="656.50,108.50 656.50,31.50 674.50,31.50 674.50,35.50" fill="none" stroke="#1a1a1a" stroke-width="1.15" stroke-linejoin="miter"/>
<line x1="634.05" y1="35.50" x2="638.85" y2="35.50" stroke="#2a2a2a" stroke-width="1.0"/>
<line x1="635.25" y1="33.02" x2="637.65" y2="37.18" stroke="#2a2a2a" stroke-width="1.0"/>
<line x1="637.65" y1="33.02" x2="635.25" y2="37.18" stroke="#2a2a2a" stroke-width="1.0"/>
<line x1="639.15" y1="35.50" x2="643.95" y2="35.50" stroke="#2a2a2a" stroke-width="1.0"/>
<line x1="640.35" y1="33.02" x2="642.75" y2="37.18" stroke="#2a2a2a" stroke-width="1.0"/>
<line x1="642.75" y1="33.02" x2="640.35" y2="37.18" stroke="#2a2a2a" stroke-width="1.0"/>
<line x1="660.45" y1="35.50" x2="665.25" y2="35.50" stroke="#2a2a2a" stroke-width="1.0"/>
<line x1="661.65" y1="33.02" x2="664.05" y2="37.18" stroke="#2a2a2a" stroke-width="1.0"/>
<line x1="664.05" y1="33.02" x2="661.65" y2="37.18" stroke="#2a2a2a" stroke-width="1.0"/>
<line x1="665.55" y1="35.50" x2="670.35" y2="35.50" stroke="#2a2a2a" stroke-width="1.0"/>
<line x1="666.75" y1="33.02" x2="669.15" y2="37.18" stroke="#2a2a2a" stroke-width="1.0"/>
<line x1="669.15" y1="33.02" x2="666.75" y2="37.18" stroke="#2a2a2a" stroke-width="1.0"/>
<line x1="52.50" y1="281.60" x2="52.50" y2="486.80" stroke="#1a1a1a" stroke-width="1.15"/>
<line x1="48.70" y1="420.50" x2="52.00" y2="420.50" stroke="#1a1a1a" stroke-width="1.15"/>
<text x="45.20" y="422.15" font-size="8.5" text-anchor="end" fill="#111" stroke="#111" stroke-width="0.45" font-family="Liberation Sans" font-weight="bold" >0</text>
<line x1="48.70" y1="392.50" x2="52.00" y2="392.50" stroke="#1a1a1a" stroke-width="1.15"/>
<text x="45.20" y="394.41" font-size="8.5" text-anchor="end" fill="#111" stroke="#111" stroke-width="0.45" font-family="Liberation Sans" font-weight="bold" >50</text>
<line x1="48.70" y1="364.50" x2="52.00" y2="364.50" stroke="#1a1a1a" stroke-width="1.15"/>
<text x="45.20" y="366.67" font-size="8.5" text-anchor="end" fill="#111" stroke="#111" stroke-width="0.45" font-family="Liberation Sans" font-weight="bold" >100</text>
<line x1="48.70" y1="337.50" x2="52.00" y2="337.50" stroke="#1a1a1a" stroke-width="1.15"/>
<text x="45.20" y="338.93" font-size="8.5" text-anchor="end" fill="#111" stroke="#111" stroke-width="0.45" font-family="Liberation Sans" font-weight="bold" >150</text>
<line x1="48.70" y1="309.50" x2="52.00" y2="309.50" stroke="#1a1a1a" stroke-width="1.15"/>
<text x="45.20" y="311.19" font-size="8.5" text-anchor="end" fill="#111" stroke="#111" stroke-width="0.45" font-family="Liberation Sans" font-weight="bold" >200</text>
<line x1="48.70" y1="281.50" x2="52.00" y2="281.50" stroke="#1a1a1a" stroke-width="1.15"/>
<text x="45.20" y="283.45" font-size="8.5" text-anchor="end" fill="#111" stroke="#111" stroke-width="0.45" font-family="Liberation Sans" font-weight="bold" >250</text>
<line x1="52.00" y1="420.50" x2="259.50" y2="420.50" stroke="#1a1a1a" stroke-width="1.15"/>
<rect x="55.50" y="364.50" width="15.00" height="55.80" fill="white" stroke="#1a1a1a" stroke-width="1.15"/>
<line x1="63.50" y1="364.82" x2="63.50" y2="358.72" stroke="#1a1a1a" stroke-width="1.15"/>
<line x1="60.85" y1="358.50" x2="65.65" y2="358.50" stroke="#1a1a1a" stroke-width="1.4"/>
<line x1="63.50" y1="364.82" x2="63.50" y2="370.92" stroke="#1a1a1a" stroke-width="1"/>
<line x1="60.85" y1="370.50" x2="65.65" y2="370.50" stroke="#1a1a1a" stroke-width="1.4"/>
<line x1="63.50" y1="420.30" x2="63.50" y2="422.10" stroke="#1a1a1a" stroke-width="1.15"/>
<rect x="78.50" y="333.50" width="15.00" height="86.80" fill="#141414" stroke="#1a1a1a" stroke-width="1.15"/>
<line x1="86.50" y1="333.20" x2="86.50" y2="320.33" stroke="#1a1a1a" stroke-width="1.15"/>
<line x1="83.85" y1="320.50" x2="88.65" y2="320.50" stroke="#1a1a1a" stroke-width="1.4"/>
<line x1="86.50" y1="420.30" x2="86.50" y2="422.10" stroke="#1a1a1a" stroke-width="1.15"/>
<rect x="101.50" y="389.50" width="15.00" height="30.80" fill="#141414" stroke="#1a1a1a" stroke-width="1.15"/>
<line x1="109.50" y1="389.23" x2="109.50" y2="382.41" stroke="#1a1a1a" stroke-width="1.15"/>
<line x1="106.85" y1="382.50" x2="111.65" y2="382.50" stroke="#1a1a1a" stroke-width="1.4"/>
<line x1="109.50" y1="420.30" x2="109.50" y2="422.10" stroke="#1a1a1a" stroke-width="1.15"/>
<rect x="124.50" y="318.50" width="15.00" height="101.80" fill="#141414" stroke="#1a1a1a" stroke-width="1.15"/>
<line x1="131.50" y1="318.22" x2="131.50" y2="301.18" stroke="#1a1a1a" stroke-width="1.15"/>
<line x1="129.55" y1="301.50" x2="134.35" y2="301.50" stroke="#1a1a1a" stroke-width="1.4"/>
<line x1="131.50" y1="420.30" x2="131.50" y2="422.10" stroke="#1a1a1a" stroke-width="1.15"/>
<rect x="147.50" y="371.50" width="15.00" height="48.80" fill="#141414" stroke="#1a1a1a" stroke-width="1.15"/>
<line x1="154.50" y1="371.20" x2="154.50" y2="368.20" stroke="#1a1a1a" stroke-width="1.15"/>
<line x1="152.50" y1="368.50" x2="157.30" y2="368.50" stroke="#1a1a1a" stroke-width="1.4"/>
<line x1="154.50" y1="420.30" x2="154.50" y2="422.10" stroke="#1a1a1a" stroke-width="1.15"/>
<rect x="170.50" y="336.50" width="15.00" height="83.80" fill="#141414" stroke="#1a1a1a" stroke-width="1.15"/>
<line x1="177.50" y1="336.58" x2="177.50" y2="321.88" stroke="#1a1a1a" stroke-width="1.15"/>
<line x1="175.50" y1="321.50" x2="180.30" y2="321.50" stroke="#1a1a1a" stroke-width="1.4"/>
<line x1="177.50" y1="420.30" x2="177.50" y2="422.10" stroke="#1a1a1a" stroke-width="1.15"/>
<rect x="194.50" y="343.50" width="15.00" height="76.80" fill="#141414" stroke="#1a1a1a" stroke-width="1.15"/>
<line x1="202.50" y1="343.18" x2="202.50" y2="326.37" stroke="#1a1a1a" stroke-width="1.15"/>
<line x1="199.60" y1="326.50" x2="204.40" y2="326.50" stroke="#1a1a1a" stroke-width="1.4"/>
<line x1="202.50" y1="420.30" x2="202.50" y2="422.10" stroke="#1a1a1a" stroke-width="1.15"/>
<rect x="217.50" y="332.50" width="15.00" height="87.80" fill="#141414" stroke="#1a1a1a" stroke-width="1.15"/>
<line x1="225.50" y1="332.31" x2="225.50" y2="314.72" stroke="#1a1a1a" stroke-width="1.15"/>
<line x1="222.65" y1="314.50" x2="227.45" y2="314.50" stroke="#1a1a1a" stroke-width="1.4"/>
<line x1="225.50" y1="420.30" x2="225.50" y2="422.10" stroke="#1a1a1a" stroke-width="1.15"/>
<rect x="240.50" y="333.50" width="15.00" height="86.80" fill="#141414" stroke="#1a1a1a" stroke-width="1.15"/>
<line x1="247.50" y1="333.09" x2="247.50" y2="318.88" stroke="#1a1a1a" stroke-width="1.15"/>
<line x1="245.45" y1="318.50" x2="250.25" y2="318.50" stroke="#1a1a1a" stroke-width="1.4"/>
<line x1="247.50" y1="420.30" x2="247.50" y2="422.10" stroke="#1a1a1a" stroke-width="1.15"/>
<text x="0.00" y="0.00" font-size="9.05" text-anchor="middle" fill="#111" stroke="#111" stroke-width="0.45" font-family="Liberation Sans" font-weight="bold" transform="translate(22.8,356.0) rotate(-90)">amount of cysteine (% of control)</text>
<line x1="74.50" y1="420.30" x2="74.50" y2="486.80" stroke="#1a1a1a" stroke-width="1.15"/>
<line x1="189.50" y1="420.30" x2="189.50" y2="469.40" stroke="#1a1a1a" stroke-width="1.15"/>
<line x1="259.50" y1="420.30" x2="259.50" y2="481.50" stroke="#1a1a1a" stroke-width="1.15"/>
<text x="64.00" y="430.90" font-size="8.2" text-anchor="middle" fill="#111" stroke="#111" stroke-width="0.45" font-family="Liberation Sans" font-weight="bold" >ev</text>
<text x="87.00" y="430.90" font-size="8.2" text-anchor="middle" fill="#111" stroke="#111" stroke-width="0.45" font-family="Liberation Sans" font-weight="bold" >ev</text>
<text x="0.00" y="0.00" font-size="8.1" text-anchor="end" fill="#111" stroke="#111" stroke-width="0.45" font-family="Liberation Sans" font-weight="bold" transform="translate(115.85,429.30) rotate(-59)">MST</text>
<text x="0.00" y="0.00" font-size="8.1" text-anchor="end" fill="#111" stroke="#111" stroke-width="0.45" font-family="Liberation Sans" font-weight="bold" transform="translate(138.55,429.30) rotate(-59)">MST R187G</text>
<text x="0.00" y="0.00" font-size="8.1" text-anchor="end" fill="#111" stroke="#111" stroke-width="0.45" font-family="Liberation Sans" font-weight="bold" transform="translate(161.50,429.30) rotate(-59)">MST R196G</text>
<text x="0.00" y="0.00" font-size="8.1" text-anchor="end" fill="#111" stroke="#111" stroke-width="0.45" font-family="Liberation Sans" font-weight="bold" transform="translate(184.50,429.30) rotate(-59)">MST C247S</text>
<text x="0.00" y="0.00" font-size="8.1" text-anchor="end" fill="#111" stroke="#111" stroke-width="0.45" font-family="Liberation Sans" font-weight="bold" transform="translate(208.60,429.30) rotate(-59)">RhD</text>
<text x="0.00" y="0.00" font-size="8.1" text-anchor="end" fill="#111" stroke="#111" stroke-width="0.45" font-family="Liberation Sans" font-weight="bold" transform="translate(231.65,429.30) rotate(-59)">RhD C247S</text>
<text x="0.00" y="0.00" font-size="8.1" text-anchor="end" fill="#111" stroke="#111" stroke-width="0.45" font-family="Liberation Sans" font-weight="bold" transform="translate(254.45,429.30) rotate(-59)">RhD R186G</text>
<text x="63.80" y="479.70" font-size="9" text-anchor="middle" fill="#111" stroke="#111" stroke-width="0.45" font-family="Liberation Sans" font-weight="bold" >0</text>
<text x="175.50" y="482.70" font-size="9" text-anchor="middle" fill="#111" stroke="#111" stroke-width="0.45" font-family="Liberation Sans" font-weight="bold" >MP 100<tspan font-weight="normal" stroke-width="0.1">&#956;</tspan>M</text>
<polyline points="83.50,312.50 83.50,285.50 104.50,285.50 104.50,377.50" fill="none" stroke="#1a1a1a" stroke-width="1.15" stroke-linejoin="miter"/>
<polyline points="111.50,377.50 111.50,285.50 176.50,285.50 176.50,315.50" fill="none" stroke="#1a1a1a" stroke-width="1.15" stroke-linejoin="miter"/>
<polyline points="111.50,293.50 130.50,293.50 130.50,297.50" fill="none" stroke="#1a1a1a" stroke-width="1.15" stroke-linejoin="miter"/>
<polyline points="134.50,297.50 134.50,293.50 151.50,293.50 151.50,362.50" fill="none" stroke="#1a1a1a" stroke-width="1.15" stroke-linejoin="miter"/>
<line x1="89.35" y1="289.50" x2="94.15" y2="289.50" stroke="#2a2a2a" stroke-width="1.0"/>
<line x1="90.55" y1="287.02" x2="92.95" y2="291.18" stroke="#2a2a2a" stroke-width="1.0"/>
<line x1="92.95" y1="287.02" x2="90.55" y2="291.18" stroke="#2a2a2a" stroke-width="1.0"/>
<line x1="94.45" y1="289.50" x2="99.25" y2="289.50" stroke="#2a2a2a" stroke-width="1.0"/>
<line x1="95.65" y1="287.02" x2="98.05" y2="291.18" stroke="#2a2a2a" stroke-width="1.0"/>
<line x1="98.05" y1="287.02" x2="95.65" y2="291.18" stroke="#2a2a2a" stroke-width="1.0"/>
<line x1="141.85" y1="289.50" x2="146.65" y2="289.50" stroke="#2a2a2a" stroke-width="1.0"/>
<line x1="143.05" y1="287.02" x2="145.45" y2="291.18" stroke="#2a2a2a" stroke-width="1.0"/>
<line x1="145.45" y1="287.02" x2="143.05" y2="291.18" stroke="#2a2a2a" stroke-width="1.0"/>
<line x1="146.95" y1="289.50" x2="151.75" y2="289.50" stroke="#2a2a2a" stroke-width="1.0"/>
<line x1="148.15" y1="287.02" x2="150.55" y2="291.18" stroke="#2a2a2a" stroke-width="1.0"/>
<line x1="150.55" y1="287.02" x2="148.15" y2="291.18" stroke="#2a2a2a" stroke-width="1.0"/>
<line x1="117.65" y1="296.50" x2="122.45" y2="296.50" stroke="#2a2a2a" stroke-width="1.0"/>
<line x1="118.85" y1="294.62" x2="121.25" y2="298.78" stroke="#2a2a2a" stroke-width="1.0"/>
<line x1="121.25" y1="294.62" x2="118.85" y2="298.78" stroke="#2a2a2a" stroke-width="1.0"/>
<line x1="122.75" y1="296.50" x2="127.55" y2="296.50" stroke="#2a2a2a" stroke-width="1.0"/>
<line x1="123.95" y1="294.62" x2="126.35" y2="298.78" stroke="#2a2a2a" stroke-width="1.0"/>
<line x1="126.35" y1="294.62" x2="123.95" y2="298.78" stroke="#2a2a2a" stroke-width="1.0"/>
<line x1="137.85" y1="296.50" x2="142.65" y2="296.50" stroke="#2a2a2a" stroke-width="1.0"/>
<line x1="139.05" y1="294.62" x2="141.45" y2="298.78" stroke="#2a2a2a" stroke-width="1.0"/>
<line x1="141.45" y1="294.62" x2="139.05" y2="298.78" stroke="#2a2a2a" stroke-width="1.0"/>
<line x1="142.95" y1="296.50" x2="147.75" y2="296.50" stroke="#2a2a2a" stroke-width="1.0"/>
<line x1="144.15" y1="294.62" x2="146.55" y2="298.78" stroke="#2a2a2a" stroke-width="1.0"/>
<line x1="146.55" y1="294.62" x2="144.15" y2="298.78" stroke="#2a2a2a" stroke-width="1.0"/>
<line x1="373.50" y1="284.50" x2="373.50" y2="493.00" stroke="#1a1a1a" stroke-width="1.15"/>
<line x1="369.80" y1="421.50" x2="373.10" y2="421.50" stroke="#1a1a1a" stroke-width="1.15"/>
<text x="364.50" y="424.35" font-size="8.5" text-anchor="end" fill="#111" stroke="#111" stroke-width="0.45" font-family="Liberation Sans" font-weight="bold" >0</text>
<line x1="369.80" y1="401.50" x2="373.10" y2="401.50" stroke="#1a1a1a" stroke-width="1.15"/>
<text x="364.50" y="404.85" font-size="8.5" text-anchor="end" fill="#111" stroke="#111" stroke-width="0.45" font-family="Liberation Sans" font-weight="bold" >20</text>
<line x1="369.80" y1="382.50" x2="373.10" y2="382.50" stroke="#1a1a1a" stroke-width="1.15"/>
<text x="364.50" y="385.35" font-size="8.5" text-anchor="end" fill="#111" stroke="#111" stroke-width="0.45" font-family="Liberation Sans" font-weight="bold" >40</text>
<line x1="369.80" y1="362.50" x2="373.10" y2="362.50" stroke="#1a1a1a" stroke-width="1.15"/>
<text x="364.50" y="365.85" font-size="8.5" text-anchor="end" fill="#111" stroke="#111" stroke-width="0.45" font-family="Liberation Sans" font-weight="bold" >60</text>
<line x1="369.80" y1="343.50" x2="373.10" y2="343.50" stroke="#1a1a1a" stroke-width="1.15"/>
<text x="364.50" y="346.35" font-size="8.5" text-anchor="end" fill="#111" stroke="#111" stroke-width="0.45" font-family="Liberation Sans" font-weight="bold" >80</text>
<line x1="369.80" y1="323.50" x2="373.10" y2="323.50" stroke="#1a1a1a" stroke-width="1.15"/>
<text x="364.50" y="326.85" font-size="8.5" text-anchor="end" fill="#111" stroke="#111" stroke-width="0.45" font-family="Liberation Sans" font-weight="bold" >100</text>
<line x1="369.80" y1="304.50" x2="373.10" y2="304.50" stroke="#1a1a1a" stroke-width="1.15"/>
<text x="364.50" y="307.35" font-size="8.5" text-anchor="end" fill="#111" stroke="#111" stroke-width="0.45" font-family="Liberation Sans" font-weight="bold" >120</text>
<line x1="369.80" y1="284.50" x2="373.10" y2="284.50" stroke="#1a1a1a" stroke-width="1.15"/>
<text x="364.50" y="287.85" font-size="8.5" text-anchor="end" fill="#111" stroke="#111" stroke-width="0.45" font-family="Liberation Sans" font-weight="bold" >140</text>
<line x1="373.10" y1="421.50" x2="580.70" y2="421.50" stroke="#1a1a1a" stroke-width="1.15"/>
<rect x="377.50" y="323.50" width="15.00" height="97.80" fill="white" stroke="#1a1a1a" stroke-width="1.15"/>
<line x1="384.50" y1="323.80" x2="384.50" y2="318.73" stroke="#1a1a1a" stroke-width="1.15"/>
<line x1="382.55" y1="318.50" x2="387.35" y2="318.50" stroke="#1a1a1a" stroke-width="1.4"/>
<line x1="384.50" y1="323.80" x2="384.50" y2="328.87" stroke="#1a1a1a" stroke-width="1"/>
<line x1="382.55" y1="328.50" x2="387.35" y2="328.50" stroke="#1a1a1a" stroke-width="1.4"/>
<line x1="384.50" y1="421.30" x2="384.50" y2="423.10" stroke="#1a1a1a" stroke-width="1.15"/>
<rect x="400.50" y="325.50" width="15.00" height="95.80" fill="#141414" stroke="#1a1a1a" stroke-width="1.15"/>
<line x1="408.50" y1="325.75" x2="408.50" y2="315.03" stroke="#1a1a1a" stroke-width="1.15"/>
<line x1="405.70" y1="315.50" x2="410.50" y2="315.50" stroke="#1a1a1a" stroke-width="1.4"/>
<line x1="408.50" y1="325.75" x2="408.50" y2="336.48" stroke="#282828" stroke-width="1"/>
<line x1="405.70" y1="336.50" x2="410.50" y2="336.50" stroke="#282828" stroke-width="1.4"/>
<line x1="408.50" y1="421.30" x2="408.50" y2="423.10" stroke="#1a1a1a" stroke-width="1.15"/>
<rect x="423.50" y="386.50" width="15.00" height="34.80" fill="#141414" stroke="#1a1a1a" stroke-width="1.15"/>
<line x1="431.50" y1="386.40" x2="431.50" y2="378.01" stroke="#1a1a1a" stroke-width="1.15"/>
<line x1="428.75" y1="378.50" x2="433.55" y2="378.50" stroke="#1a1a1a" stroke-width="1.4"/>
<line x1="431.50" y1="386.40" x2="431.50" y2="394.78" stroke="#282828" stroke-width="1"/>
<line x1="428.75" y1="394.50" x2="433.55" y2="394.50" stroke="#282828" stroke-width="1.4"/>
<line x1="431.50" y1="421.30" x2="431.50" y2="423.10" stroke="#1a1a1a" stroke-width="1.15"/>
<rect x="446.50" y="335.50" width="15.00" height="85.80" fill="#141414" stroke="#1a1a1a" stroke-width="1.15"/>
<line x1="454.50" y1="335.01" x2="454.50" y2="324.48" stroke="#1a1a1a" stroke-width="1.15"/>
<line x1="451.60" y1="324.50" x2="456.40" y2="324.50" stroke="#1a1a1a" stroke-width="1.4"/>
<line x1="454.50" y1="335.01" x2="454.50" y2="345.54" stroke="#282828" stroke-width="1"/>
<line x1="451.60" y1="345.50" x2="456.40" y2="345.50" stroke="#282828" stroke-width="1.4"/>
<line x1="454.50" y1="421.30" x2="454.50" y2="423.10" stroke="#1a1a1a" stroke-width="1.15"/>
<rect x="469.50" y="376.50" width="15.00" height="44.80" fill="#141414" stroke="#1a1a1a" stroke-width="1.15"/>
<line x1="476.50" y1="376.45" x2="476.50" y2="373.53" stroke="#1a1a1a" stroke-width="1.15"/>
<line x1="474.35" y1="373.50" x2="479.15" y2="373.50" stroke="#1a1a1a" stroke-width="1.4"/>
<line x1="476.50" y1="376.45" x2="476.50" y2="379.38" stroke="#282828" stroke-width="1"/>
<line x1="474.35" y1="379.50" x2="479.15" y2="379.50" stroke="#282828" stroke-width="1.4"/>
<line x1="476.50" y1="421.30" x2="476.50" y2="423.10" stroke="#1a1a1a" stroke-width="1.15"/>
<rect x="492.50" y="328.50" width="15.00" height="92.80" fill="#141414" stroke="#1a1a1a" stroke-width="1.15"/>
<line x1="500.50" y1="328.68" x2="500.50" y2="313.17" stroke="#1a1a1a" stroke-width="1.15"/>
<line x1="497.60" y1="313.50" x2="502.40" y2="313.50" stroke="#1a1a1a" stroke-width="1.4"/>
<line x1="500.50" y1="328.68" x2="500.50" y2="344.18" stroke="#282828" stroke-width="1"/>
<line x1="497.60" y1="344.50" x2="502.40" y2="344.50" stroke="#282828" stroke-width="1.4"/>
<line x1="500.50" y1="421.30" x2="500.50" y2="423.10" stroke="#1a1a1a" stroke-width="1.15"/>
<rect x="515.50" y="329.50" width="15.00" height="91.80" fill="#141414" stroke="#1a1a1a" stroke-width="1.15"/>
<line x1="523.50" y1="329.16" x2="523.50" y2="311.61" stroke="#1a1a1a" stroke-width="1.15"/>
<line x1="520.70" y1="311.50" x2="525.50" y2="311.50" stroke="#1a1a1a" stroke-width="1.4"/>
<line x1="523.50" y1="329.16" x2="523.50" y2="346.71" stroke="#282828" stroke-width="1"/>
<line x1="520.70" y1="346.50" x2="525.50" y2="346.50" stroke="#282828" stroke-width="1.4"/>
<line x1="523.50" y1="421.30" x2="523.50" y2="423.10" stroke="#1a1a1a" stroke-width="1.15"/>
<rect x="538.50" y="327.50" width="15.00" height="93.80" fill="#141414" stroke="#1a1a1a" stroke-width="1.15"/>
<line x1="546.50" y1="327.50" x2="546.50" y2="313.27" stroke="#1a1a1a" stroke-width="1.15"/>
<line x1="543.75" y1="313.50" x2="548.55" y2="313.50" stroke="#1a1a1a" stroke-width="1.4"/>
<line x1="546.50" y1="327.50" x2="546.50" y2="341.74" stroke="#282828" stroke-width="1"/>
<line x1="543.75" y1="341.50" x2="548.55" y2="341.50" stroke="#282828" stroke-width="1.4"/>
<line x1="546.50" y1="421.30" x2="546.50" y2="423.10" stroke="#1a1a1a" stroke-width="1.15"/>
<rect x="561.50" y="319.50" width="15.00" height="101.80" fill="#141414" stroke="#1a1a1a" stroke-width="1.15"/>
<line x1="569.50" y1="319.22" x2="569.50" y2="306.45" stroke="#1a1a1a" stroke-width="1.15"/>
<line x1="566.95" y1="306.50" x2="571.75" y2="306.50" stroke="#1a1a1a" stroke-width="1.4"/>
<line x1="569.50" y1="319.22" x2="569.50" y2="331.99" stroke="#282828" stroke-width="1"/>
<line x1="566.95" y1="331.50" x2="571.75" y2="331.50" stroke="#282828" stroke-width="1.4"/>
<line x1="569.50" y1="421.30" x2="569.50" y2="423.10" stroke="#1a1a1a" stroke-width="1.15"/>
<text x="0.00" y="0.00" font-size="9.05" text-anchor="middle" fill="#111" stroke="#111" stroke-width="0.45" font-family="Liberation Sans" font-weight="bold" transform="translate(345.0,365.9) rotate(-90)">amount of GSH (% of control)</text>
<line x1="396.50" y1="421.30" x2="396.50" y2="493.00" stroke="#1a1a1a" stroke-width="1.15"/>
<line x1="511.50" y1="421.30" x2="511.50" y2="471.80" stroke="#1a1a1a" stroke-width="1.15"/>
<line x1="580.50" y1="421.30" x2="580.50" y2="493.00" stroke="#1a1a1a" stroke-width="1.15"/>
<text x="385.30" y="431.80" font-size="8.2" text-anchor="middle" fill="#111" stroke="#111" stroke-width="0.45" font-family="Liberation Sans" font-weight="bold" >ev</text>
<text x="408.30" y="431.80" font-size="8.2" text-anchor="middle" fill="#111" stroke="#111" stroke-width="0.45" font-family="Liberation Sans" font-weight="bold" >ev</text>
<text x="0.00" y="0.00" font-size="8.1" text-anchor="end" fill="#111" stroke="#111" stroke-width="0.45" font-family="Liberation Sans" font-weight="bold" transform="translate(437.75,428.80) rotate(-59)">MST</text>
<text x="0.00" y="0.00" font-size="8.1" text-anchor="end" fill="#111" stroke="#111" stroke-width="0.45" font-family="Liberation Sans" font-weight="bold" transform="translate(460.60,428.80) rotate(-59)">MST R187G</text>
<text x="0.00" y="0.00" font-size="8.1" text-anchor="end" fill="#111" stroke="#111" stroke-width="0.45" font-family="Liberation Sans" font-weight="bold" transform="translate(483.35,428.80) rotate(-59)">MST R196G</text>
<text x="0.00" y="0.00" font-size="8.1" text-anchor="end" fill="#111" stroke="#111" stroke-width="0.45" font-family="Liberation Sans" font-weight="bold" transform="translate(506.60,428.80) rotate(-59)">MST C247S</text>
<text x="0.00" y="0.00" font-size="8.1" text-anchor="end" fill="#111" stroke="#111" stroke-width="0.45" font-family="Liberation Sans" font-weight="bold" transform="translate(529.70,428.80) rotate(-59)">RhD</text>
<text x="0.00" y="0.00" font-size="8.1" text-anchor="end" fill="#111" stroke="#111" stroke-width="0.45" font-family="Liberation Sans" font-weight="bold" transform="translate(552.75,428.80) rotate(-59)">RhD C247S</text>
<text x="0.00" y="0.00" font-size="8.1" text-anchor="end" fill="#111" stroke="#111" stroke-width="0.45" font-family="Liberation Sans" font-weight="bold" transform="translate(575.95,428.80) rotate(-59)">RhD R186G</text>
<text x="385.50" y="485.20" font-size="9" text-anchor="middle" fill="#111" stroke="#111" stroke-width="0.45" font-family="Liberation Sans" font-weight="bold" >0</text>
<text x="501.50" y="486.50" font-size="9" text-anchor="middle" fill="#111" stroke="#111" stroke-width="0.45" font-family="Liberation Sans" font-weight="bold" >MP 100<tspan font-weight="normal" stroke-width="0.1">&#956;</tspan>M</text>
<polyline points="407.50,307.50 407.50,266.50 478.50,266.50 478.50,272.50" fill="none" stroke="#1a1a1a" stroke-width="1.15" stroke-linejoin="miter"/>
<polyline points="407.50,280.50 428.50,280.50 428.50,372.50" fill="none" stroke="#1a1a1a" stroke-width="1.15" stroke-linejoin="miter"/>
<polyline points="435.50,372.50 435.50,280.50 500.50,280.50 500.50,305.50" fill="none" stroke="#1a1a1a" stroke-width="1.15" stroke-linejoin="miter"/>
<polyline points="435.50,294.50 450.50,294.50 450.50,321.50" fill="none" stroke="#1a1a1a" stroke-width="1.15" stroke-linejoin="miter"/>
<polyline points="478.50,369.50 478.50,294.50 500.50,294.50" fill="none" stroke="#1a1a1a" stroke-width="1.15" stroke-linejoin="miter"/>
<line x1="441.00" y1="270.50" x2="445.80" y2="270.50" stroke="#2a2a2a" stroke-width="1.0"/>
<line x1="442.20" y1="267.92" x2="444.60" y2="272.08" stroke="#2a2a2a" stroke-width="1.0"/>
<line x1="444.60" y1="267.92" x2="442.20" y2="272.08" stroke="#2a2a2a" stroke-width="1.0"/>
<line x1="412.35" y1="285.50" x2="417.15" y2="285.50" stroke="#2a2a2a" stroke-width="1.0"/>
<line x1="413.55" y1="283.32" x2="415.95" y2="287.48" stroke="#2a2a2a" stroke-width="1.0"/>
<line x1="415.95" y1="283.32" x2="413.55" y2="287.48" stroke="#2a2a2a" stroke-width="1.0"/>
<line x1="417.45" y1="285.50" x2="422.25" y2="285.50" stroke="#2a2a2a" stroke-width="1.0"/>
<line x1="418.65" y1="283.32" x2="421.05" y2="287.48" stroke="#2a2a2a" stroke-width="1.0"/>
<line x1="421.05" y1="283.32" x2="418.65" y2="287.48" stroke="#2a2a2a" stroke-width="1.0"/>
<line x1="464.95" y1="284.50" x2="469.75" y2="284.50" stroke="#2a2a2a" stroke-width="1.0"/>
<line x1="466.15" y1="282.02" x2="468.55" y2="286.18" stroke="#2a2a2a" stroke-width="1.0"/>
<line x1="468.55" y1="282.02" x2="466.15" y2="286.18" stroke="#2a2a2a" stroke-width="1.0"/>
<line x1="470.05" y1="284.50" x2="474.85" y2="284.50" stroke="#2a2a2a" stroke-width="1.0"/>
<line x1="471.25" y1="282.02" x2="473.65" y2="286.18" stroke="#2a2a2a" stroke-width="1.0"/>
<line x1="473.65" y1="282.02" x2="471.25" y2="286.18" stroke="#2a2a2a" stroke-width="1.0"/>
<line x1="441.00" y1="298.50" x2="445.80" y2="298.50" stroke="#2a2a2a" stroke-width="1.0"/>
<line x1="442.20" y1="296.02" x2="444.60" y2="300.18" stroke="#2a2a2a" stroke-width="1.0"/>
<line x1="444.60" y1="296.02" x2="442.20" y2="300.18" stroke="#2a2a2a" stroke-width="1.0"/>
<line x1="483.80" y1="299.50" x2="488.60" y2="299.50" stroke="#2a2a2a" stroke-width="1.0"/>
<line x1="485.00" y1="297.22" x2="487.40" y2="301.38" stroke="#2a2a2a" stroke-width="1.0"/>
<line x1="487.40" y1="297.22" x2="485.00" y2="301.38" stroke="#2a2a2a" stroke-width="1.0"/>
</svg>
</body></html>
